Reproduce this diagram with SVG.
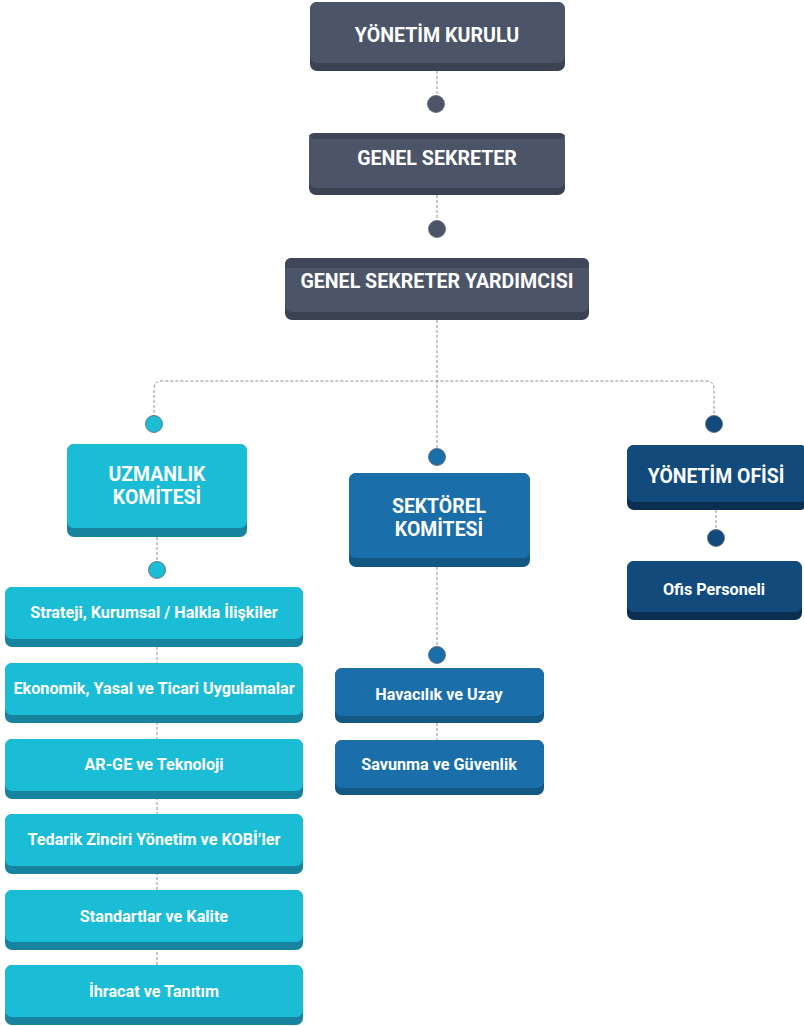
<svg xmlns="http://www.w3.org/2000/svg" width="804" height="1026" viewBox="0 0 804 1026">
<style>
text{font-family:Roboto,"Liberation Sans",sans-serif;font-weight:700;fill:#fff;text-anchor:middle}
.t18{font-size:19.6px}
.t17{font-size:19.4px}
.t14{font-size:16.2px}
.c{fill:none;stroke:#8a8f99;stroke-width:1;stroke-dasharray:3 2}
.s1{fill:#3b4252}.f1{fill:#4c5568}
.s2{fill:#18839f}.f2{fill:#1bbcd6}
.s3{fill:#135783}.f3{fill:#1a6ea9}
.s4{fill:#0a2f52}.f4{fill:#114a7b}
.band{fill:#3f4658}
.d{stroke:#5a6270;stroke-width:0.8}
</style>
<g id="connectors">
<path class="c" d="M437 71V104M437 195V229M437 320V457M437 567V655M437 723V740"/>
<path class="c" d="M154 423V389Q154 381 162 381H706Q714 381 714 389V423"/>
<path class="c" d="M157 537V570M157 647V966"/>
<path class="c" d="M716 510V538"/>
<circle class="f1 d" cx="436" cy="104" r="8.5"/>
<circle class="f1 d" cx="437" cy="229" r="8.5"/>
<circle class="f2 d" cx="154" cy="424" r="8.5"/>
<circle class="f3 d" cx="437" cy="457" r="8.5"/>
<circle class="f4 d" cx="714" cy="424" r="8.5"/>
<circle class="f2 d" cx="157" cy="570" r="8.5"/>
<circle class="f3 d" cx="437" cy="655" r="8.5"/>
<circle class="f4 d" cx="716" cy="538" r="8.5"/>
</g>
<g id="yonetim-kurulu">
<rect class="s1" x="310" y="2" width="255" height="69" rx="7"/>
<rect class="f1" x="310" y="2" width="255" height="61" rx="7"/>
<text class="t18" x="437" y="42">YÖNETİM KURULU</text>
</g>
<g id="genel-sekreter">
<rect class="s1" x="309" y="133" width="256" height="62" rx="7"/>
<rect class="f1" x="309" y="133" width="256" height="55" rx="7"/>
<rect class="band" x="309" y="133" width="256" height="6" rx="6"/>
<text class="t18" x="437" y="165">GENEL SEKRETER</text>
</g>
<g id="genel-sekreter-yardimcisi">
<rect class="s1" x="285" y="258" width="304" height="62" rx="7"/>
<rect class="f1" x="285" y="258" width="304" height="54" rx="7"/>
<path class="band" d="M292 258H582Q589 258 589 265V268H285V265Q285 258 292 258Z"/>
<text class="t18" x="437" y="288">GENEL SEKRETER YARDIMCISI</text>
</g>
<g id="uzmanlik-komitesi">
<rect class="s2" x="67" y="444" width="180" height="93" rx="7"/>
<rect class="f2" x="67" y="444" width="180" height="84" rx="7"/>
<text class="t17" x="157" y="481">UZMANLIK</text>
<text class="t17" x="157" y="504">KOMİTESİ</text>
</g>
<g id="sektorel-komitesi">
<rect class="s3" x="349" y="473" width="181" height="94" rx="7"/>
<rect class="f3" x="349" y="473" width="181" height="85" rx="7"/>
<text class="t17" x="439" y="513">SEKTÖREL</text>
<text class="t17" x="439" y="536">KOMİTESİ</text>
</g>
<g id="yonetim-ofisi">
<rect class="s4" x="627" y="445" width="180" height="65" rx="7"/>
<rect class="f4" x="627" y="445" width="180" height="57" rx="7"/>
<text class="t17" x="716" y="483">YÖNETİM OFİSİ</text>
</g>
<g id="ofis-personeli">
<rect class="s4" x="627" y="561" width="175" height="59" rx="7"/>
<rect class="f4" x="627" y="561" width="175" height="51" rx="7"/>
<text class="t14" x="714" y="595">Ofis Personeli</text>
</g>
<g id="strateji">
<rect class="s2" x="5" y="587" width="298" height="60" rx="7"/>
<rect class="f2" x="5" y="587" width="298" height="52" rx="7"/>
<text class="t14" x="154" y="618">Strateji, Kurumsal / Halkla İlişkiler</text>
</g>
<g id="ekonomik">
<rect class="s2" x="5" y="663" width="298" height="60" rx="7"/>
<rect class="f2" x="5" y="663" width="298" height="52" rx="7"/>
<text class="t14" x="154" y="694">Ekonomik, Yasal ve Ticari Uygulamalar</text>
</g>
<g id="arge">
<rect class="s2" x="5" y="739" width="298" height="60" rx="7"/>
<rect class="f2" x="5" y="739" width="298" height="52" rx="7"/>
<text class="t14" x="154" y="770">AR-GE ve Teknoloji</text>
</g>
<g id="tedarik">
<rect class="s2" x="5" y="814" width="298" height="60" rx="7"/>
<rect class="f2" x="5" y="814" width="298" height="52" rx="7"/>
<text class="t14" x="154" y="845">Tedarik Zinciri Yönetim ve KOBİ’ler</text>
</g>
<g id="standartlar">
<rect class="s2" x="5" y="890" width="298" height="60" rx="7"/>
<rect class="f2" x="5" y="890" width="298" height="52" rx="7"/>
<text class="t14" x="154" y="922">Standartlar ve Kalite</text>
</g>
<g id="ihracat">
<rect class="s2" x="5" y="965" width="298" height="60" rx="7"/>
<rect class="f2" x="5" y="965" width="298" height="52" rx="7"/>
<text class="t14" x="154" y="997">İhracat ve Tanıtım</text>
</g>
<g id="havacilik">
<rect class="s3" x="335" y="668" width="209" height="55" rx="7"/>
<rect class="f3" x="335" y="668" width="209" height="48" rx="7"/>
<text class="t14" x="439" y="700">Havacılık ve Uzay</text>
</g>
<g id="savunma">
<rect class="s3" x="335" y="740" width="209" height="55" rx="7"/>
<rect class="f3" x="335" y="740" width="209" height="48" rx="7"/>
<text class="t14" x="439" y="770">Savunma ve Güvenlik</text>
</g>
</svg>
